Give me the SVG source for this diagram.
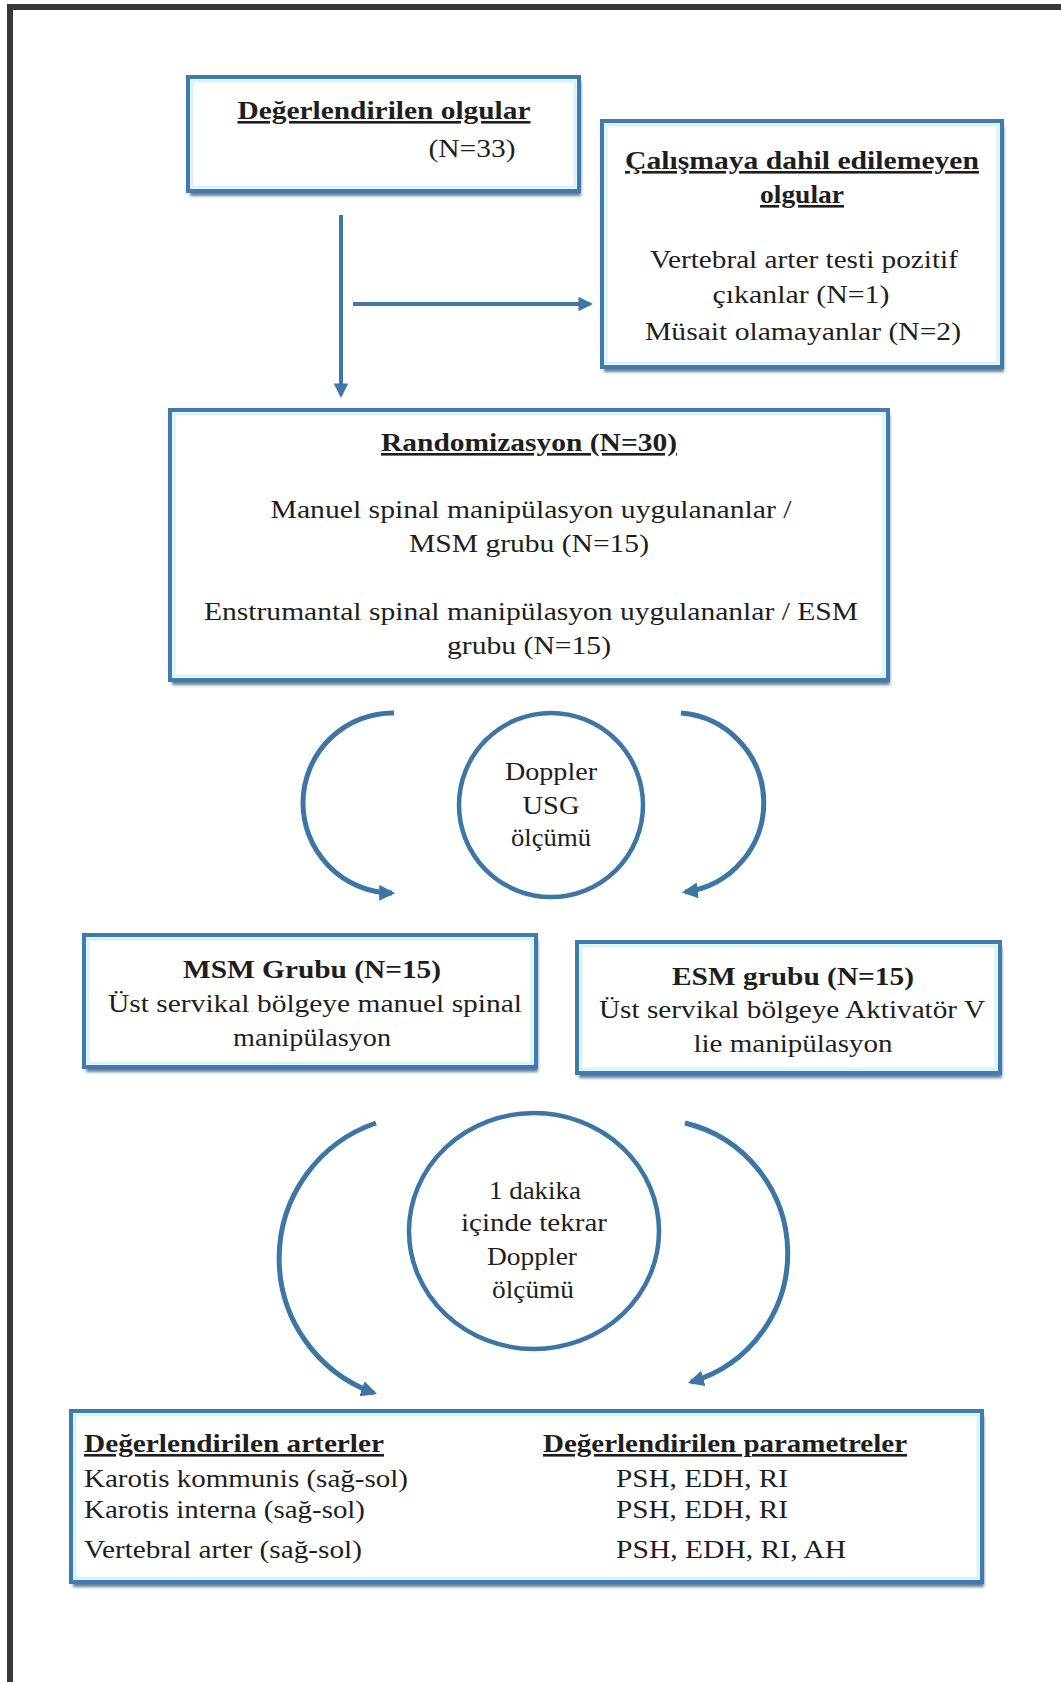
<svg xmlns="http://www.w3.org/2000/svg" width="1061" height="1682" viewBox="0 0 1061 1682">
<defs>
<style>
.box{fill:#fff;stroke:#3f7bb1;stroke-width:4}
.glow{fill:none;stroke:#d8f2fa;stroke-width:3}
.sh{fill:#4a6580;opacity:.85;filter:url(#blur)}
text{font-family:"Liberation Serif","Times New Roman",serif;font-size:26px;fill:#1e1e1e}
.c{text-anchor:middle}
.b{font-weight:bold}
.u{text-decoration:underline}
.con{fill:none;stroke:#3f77a8;stroke-width:4}
.arc{fill:none;stroke:#3c75a6;stroke-width:5}
.circ{fill:#fff;stroke:#3c75a6;stroke-width:4.5}
</style>
<filter id="blur" x="-10%" y="-10%" width="120%" height="130%"><feGaussianBlur stdDeviation="1.6"/></filter>
<marker id="ah" viewBox="0 0 10 10" refX="8" refY="5" markerWidth="3.6" markerHeight="3.6" orient="auto" markerUnits="strokeWidth"><path d="M0,0 L10,5 L0,10 z" fill="#3f77a8"/></marker>
<marker id="ah2" viewBox="0 0 10 10" refX="8" refY="5" markerWidth="3.2" markerHeight="3.2" orient="auto" markerUnits="strokeWidth"><path d="M0,0 L10,5 L0,10 z" fill="#3c75a6"/></marker>
</defs>
<rect width="1061" height="1682" fill="#fff"/>
<path d="M10 1682 V7 H1061" fill="none" stroke="#383838" stroke-width="6"/>

<g id="connectors">
<path class="con" d="M341 215 V395" marker-end="url(#ah)"/>
<path class="con" d="M353 304 H590" marker-end="url(#ah)"/>
<path class="arc" d="M394 713 A90 90 0 0 0 392 893" marker-end="url(#ah2)"/>
<path class="arc" d="M681 713 A90 90 0 0 1 685 892" marker-end="url(#ah2)"/>
<path class="arc" d="M376 1123 A143 143 0 0 0 374 1393" marker-end="url(#ah2)"/>
<path class="arc" d="M685 1123 A134 134 0 0 1 691 1382" marker-end="url(#ah2)"/>
</g>

<g id="node-degerlendirilen">
<rect class="sh" x="190" y="82" width="391" height="114"/>
<rect class="box" x="188" y="77" width="391" height="114"/>
<rect class="glow" x="192" y="81" width="383" height="106"/>
<text class="c b u" x="384" y="119" textLength="293" lengthAdjust="spacingAndGlyphs">Değerlendirilen olgular</text>
<text class="c" x="472" y="157" textLength="87" lengthAdjust="spacingAndGlyphs">(N=33)</text>
</g>

<g id="node-dahil-edilemeyen">
<rect class="sh" x="604" y="126" width="400" height="246"/>
<rect class="box" x="602" y="121" width="400" height="246"/>
<rect class="glow" x="606" y="125" width="392" height="238"/>
<text class="c b u" x="802" y="169" textLength="354" lengthAdjust="spacingAndGlyphs">Çalışmaya dahil edilemeyen</text>
<text class="c b u" x="802" y="203" textLength="84" lengthAdjust="spacingAndGlyphs">olgular</text>
<text class="c" x="804" y="268" textLength="308" lengthAdjust="spacingAndGlyphs">Vertebral arter testi pozitif</text>
<text class="c" x="801" y="303" textLength="177" lengthAdjust="spacingAndGlyphs">çıkanlar (N=1)</text>
<text class="c" x="803" y="340" textLength="316" lengthAdjust="spacingAndGlyphs">Müsait olamayanlar (N=2)</text>
</g>

<g id="node-randomizasyon">
<rect class="sh" x="172" y="415" width="718" height="270"/>
<rect class="box" x="170" y="410" width="718" height="270"/>
<rect class="glow" x="174" y="414" width="710" height="262"/>
<text class="c b u" x="529" y="451" textLength="296" lengthAdjust="spacingAndGlyphs">Randomizasyon (N=30)</text>
<text class="c" x="531" y="518" textLength="521" lengthAdjust="spacingAndGlyphs">Manuel spinal manipülasyon uygulananlar /</text>
<text class="c" x="529" y="552" textLength="240" lengthAdjust="spacingAndGlyphs">MSM grubu (N=15)</text>
<text class="c" x="531" y="620" textLength="654" lengthAdjust="spacingAndGlyphs">Enstrumantal spinal manipülasyon uygulananlar / ESM</text>
<text class="c" x="529" y="654" textLength="164" lengthAdjust="spacingAndGlyphs">grubu (N=15)</text>
</g>

<g id="node-doppler-usg">
<circle class="circ" cx="551" cy="805" r="92"/>
<text class="c" x="551" y="780" textLength="92" lengthAdjust="spacingAndGlyphs">Doppler</text>
<text class="c" x="551" y="814" textLength="57" lengthAdjust="spacingAndGlyphs">USG</text>
<text class="c" x="551" y="846" textLength="80" lengthAdjust="spacingAndGlyphs">ölçümü</text>
</g>

<g id="node-msm">
<rect class="sh" x="86" y="940" width="452" height="132"/>
<rect class="box" x="84" y="935" width="452" height="132"/>
<rect class="glow" x="88" y="939" width="444" height="124"/>
<text class="c b" x="312" y="978" textLength="258" lengthAdjust="spacingAndGlyphs">MSM Grubu (N=15)</text>
<text class="c" x="315" y="1012" textLength="414" lengthAdjust="spacingAndGlyphs">Üst servikal bölgeye manuel spinal</text>
<text class="c" x="312" y="1046" textLength="158" lengthAdjust="spacingAndGlyphs">manipülasyon</text>
</g>

<g id="node-esm">
<rect class="sh" x="579" y="947" width="423" height="131"/>
<rect class="box" x="577" y="942" width="423" height="131"/>
<rect class="glow" x="581" y="946" width="415" height="123"/>
<text class="c b" x="793" y="985" textLength="242" lengthAdjust="spacingAndGlyphs">ESM grubu (N=15)</text>
<text class="c" x="792" y="1018" textLength="386" lengthAdjust="spacingAndGlyphs">Üst servikal bölgeye Aktivatör V</text>
<text class="c" x="793" y="1052" textLength="199" lengthAdjust="spacingAndGlyphs">lie manipülasyon</text>
</g>

<g id="node-tekrar-doppler">
<ellipse class="circ" cx="534" cy="1231" rx="125" ry="118"/>
<text class="c" x="535" y="1199" textLength="92" lengthAdjust="spacingAndGlyphs">1 dakika</text>
<text class="c" x="534" y="1231" textLength="146" lengthAdjust="spacingAndGlyphs">içinde tekrar</text>
<text class="c" x="532" y="1265" textLength="90" lengthAdjust="spacingAndGlyphs">Doppler</text>
<text class="c" x="533" y="1298" textLength="82" lengthAdjust="spacingAndGlyphs">ölçümü</text>
</g>

<g id="node-arterler">
<rect class="sh" x="73" y="1416" width="911" height="171"/>
<rect class="box" x="71" y="1411" width="911" height="171"/>
<rect class="glow" x="75" y="1415" width="903" height="163"/>
<text class="b u" x="84" y="1452" textLength="300" lengthAdjust="spacingAndGlyphs">Değerlendirilen arterler</text>
<text class="b u" x="543" y="1452" textLength="364" lengthAdjust="spacingAndGlyphs">Değerlendirilen parametreler</text>
<text x="84" y="1487" textLength="324" lengthAdjust="spacingAndGlyphs">Karotis kommunis (sağ-sol)</text>
<text x="616" y="1487" textLength="172" lengthAdjust="spacingAndGlyphs">PSH, EDH, RI</text>
<text x="84" y="1518" textLength="281" lengthAdjust="spacingAndGlyphs">Karotis interna (sağ-sol)</text>
<text x="616" y="1518" textLength="172" lengthAdjust="spacingAndGlyphs">PSH, EDH, RI</text>
<text x="84" y="1558" textLength="278" lengthAdjust="spacingAndGlyphs">Vertebral arter (sağ-sol)</text>
<text x="616" y="1558" textLength="230" lengthAdjust="spacingAndGlyphs">PSH, EDH, RI, AH</text>
</g>
</svg>
